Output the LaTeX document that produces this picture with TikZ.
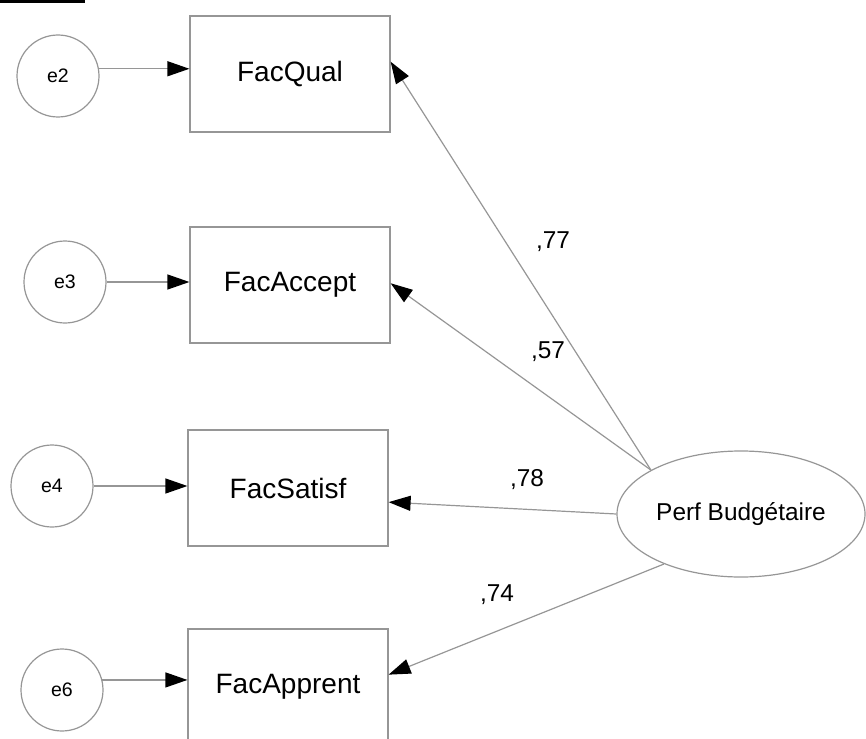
\documentclass[tikz,border=0pt]{standalone}
\usepackage{fontspec}
\setmainfont{Liberation Sans}
\usetikzlibrary{arrows.meta,shapes.geometric}
\definecolor{semgray}{RGB}{150,150,150}

\begin{document}
\begin{tikzpicture}[x=0.5pt,y=-0.5pt,every node/.style={font=\fontsize{14}{16}\selectfont},
      obs/.style={draw=semgray,line width=0.6pt,minimum width=100pt,minimum height=58pt,inner sep=0pt},
      err/.style={draw=semgray,line width=0.6pt,circle,minimum size=41pt,inner sep=0pt,font=\fontsize{9.75}{11}\selectfont},
      lat/.style={draw=semgray,line width=0.6pt,ellipse,minimum width=124pt,minimum height=63pt,inner sep=0pt,font=\fontsize{12.2}{14}\selectfont},
      load/.style={font=\fontsize{12.2}{14}\selectfont},
      arr/.style={draw=semgray,line width=0.6pt,-{Triangle[length=11pt,width=7.5pt,color=black]}}]
    \useasboundingbox (0,0) rectangle (866,738);
    \fill (0,0) rectangle (85,3);
    % Observed variables
    \node[obs] (qual)    at (290,74)  {FacQual};
    \node[obs] (accept)  at (290,285) {FacAccept};
    \node[obs] (satisf)  at (288,488) {FacSatisf};
    \node[obs] (apprent) at (288,687) {FacApprent};
    % Error terms
    \node[err] (e2) at (58,76)  {e2};
    \node[err] (e3) at (65,282) {e3};
    \node[err] (e4) at (52,486) {e4};
    \node[err] (e6) at (62,690) {e6};
    % Latent factor
    \node[lat] (perf) at (741,514) {Perf Budgétaire};
    % Error paths
    \foreach \e/\o/\ang in {e2/qual/10,e3/accept/0,e4/satisf/0,e6/apprent/14}{\draw[arr] (\e.\ang) -- (\e.\ang -| \o.west);}
    % Loadings
    \foreach \o/\a/\b in {qual/154/7,accept/154/1,satisf/180/-8,apprent/213/7}{\draw[arr] (perf.\a) -- (\o.\b);}
    \node[load] (l77) at (553,242) {,77};
    \node[load] (l57) at (548,352) {,57};
    \node[load] (l78) at (527,480) {,78};
    \node[load] (l74) at (497,595) {,74};
  \end{tikzpicture}
\end{document}
